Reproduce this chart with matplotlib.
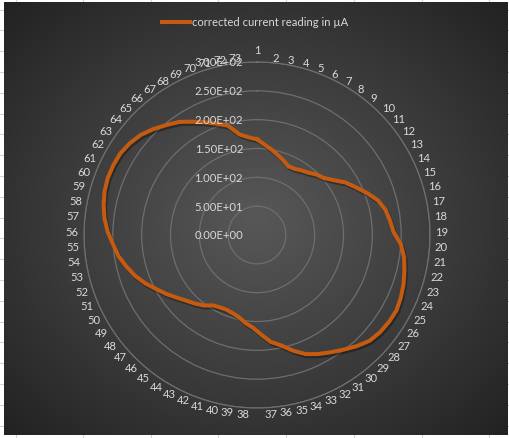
import numpy as np
import matplotlib
matplotlib.use("Agg")
import matplotlib.pyplot as plt
import matplotlib.patheffects as pe
from matplotlib.lines import Line2D

plt.rcParams['font.family'] = ['Lato', 'DejaVu Sans']

categories = [str(i) for i in range(1, 74)]
current = [166, 157, 150, 143, 137, 131, 132, 136, 140, 147,
           152, 163, 178, 190, 204, 218, 227, 232, 237, 250,
           258, 263, 268, 272, 275, 274, 272, 268, 259, 249,
           240, 232, 223, 210, 196, 187, 173, 161, 154, 146,
           142, 140, 141, 144, 153, 160, 167, 176, 187, 198,
           211, 223, 233, 243, 250, 259, 266, 271, 275, 277,
           277, 276, 272, 266, 257, 247, 238, 226, 215, 205,
           196, 177, 170]
rings = [0, 50, 100, 150, 200, 250, 300]
ring_labels = ['0.00E+00', '5.00E+01', '1.00E+02', '1.50E+02',
               '2.00E+02', '2.50E+02', '3.00E+02']
series_name = 'corrected current reading in µA'

W, H = 510, 439
fig = plt.figure(figsize=(W / 100, H / 100), dpi=100)
fig.patch.set_facecolor('white')

# worksheet cell lines behind the chart object
for x in [16, 83, 151, 218, 286, 354, 422, 489]:
    fig.add_artist(Line2D([x / W, x / W], [0, 1], color='#d4d4d4', lw=0.8, zorder=-5))
for y in np.arange(10.6, H, 20.8):
    fig.add_artist(Line2D([0, 1], [1 - y / H, 1 - y / H], color='#d4d4d4', lw=0.8, zorder=-5))

# chart area with dark radial fill
bg = fig.add_axes([4 / W, 3 / H, 504 / W, 433 / H])
gx, gy = np.meshgrid(np.linspace(-1, 1, 400), np.linspace(-1, 1, 340))
d = np.clip(np.sqrt(gx ** 2 + gy ** 2) / np.sqrt(2), 0, 1)
shade = (0x58 - (0x58 - 0x22) * d) / 255
bg.imshow(np.dstack([shade, shade, shade]), aspect='auto', extent=[0, 1, 0, 1])
bg.set_axis_off()

cx, cy, R = 257, 236, 173
ax = fig.add_axes([(cx - R) / W, (H - cy - R) / H, 2 * R / W, 2 * R / H],
                  projection='polar')
ax.patch.set_alpha(0)
ax.set_theta_zero_location('N')
ax.set_theta_direction(-1)
ax.set_ylim(0, 300)
ax.set_yticks(rings[1:])
ax.set_yticklabels([])
ax.set_xticks([])
ax.yaxis.grid(True, color='#6e6e6e', lw=0.9)
ax.xaxis.grid(False)
ax.spines['polar'].set_color('#6e6e6e')
ax.spines['polar'].set_linewidth(0.9)

theta = np.arange(len(categories)) * 2 * np.pi / len(categories)
vals = np.array(current + current[:1])
th = np.append(theta, theta[0])
ax.plot(th, vals, color='#c55a11', lw=2.9, solid_joinstyle='round', zorder=3,
        path_effects=[pe.SimpleLineShadow(offset=(1, -1.5), shadow_color='black', alpha=0.35),
                      pe.Normal()])

# category labels: left/right of the anchor by side, centred vertically
txt = '#d9d9d9'
anchor = 309
for t, lab in zip(theta, categories):
    s = np.sin(t)
    if abs(s) < 1e-6:
        ha, va, off = 'center', 'bottom', (0, 2)
    else:
        ha, va, off = ('left' if s > 0 else 'right'), 'center', (0, 0)
    ax.annotate(lab, xy=(t, anchor), xytext=off, textcoords='offset pixels',
                ha=ha, va=va, fontsize=8.1, color=txt,
                annotation_clip=False, zorder=5)

for r, lab in zip(rings, ring_labels):
    ax.annotate(lab, xy=(0, r), xytext=(-14, 0), textcoords='offset pixels',
                ha='right', va='center', fontsize=8.1, color=txt,
                annotation_clip=False, zorder=5)

handle = Line2D([], [], color='#c55a11', lw=2.9)
fig.legend([handle], [series_name], loc='center', bbox_to_anchor=(0.5, 1 - 23 / H),
           frameon=False, fontsize=8.1, labelcolor=txt, handlelength=2.5,
           handletextpad=0.2)

fig.savefig('out.png', dpi=100)
